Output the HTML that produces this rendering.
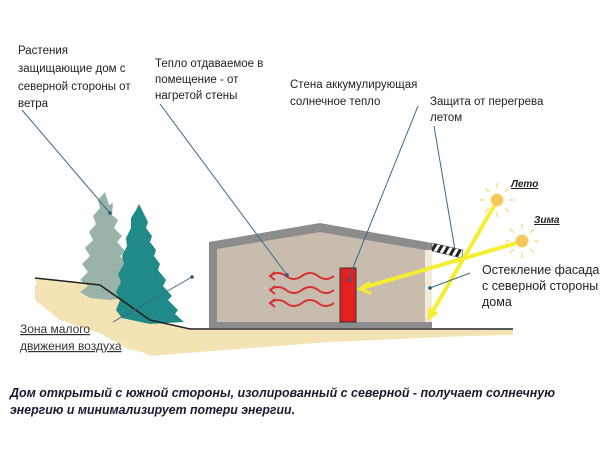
<!DOCTYPE html>
<html><head><meta charset="utf-8"><style>
html,body{margin:0;padding:0;background:#fff;}
svg{display:block;}
text{font-family:"Liberation Sans","DejaVu Sans",sans-serif;}
</style></head><body>
<svg width="604" height="453" viewBox="0 0 604 453" xmlns="http://www.w3.org/2000/svg">
<defs>
<pattern id="hatch" width="6" height="6" patternUnits="userSpaceOnUse" patternTransform="rotate(30)">
<rect width="6" height="6" fill="#fff"/><rect width="3" height="6" fill="#222"/></pattern>
</defs>
<!-- ground -->
<path d="M35,278 L100,285 L150,320 L190,330 L513,330 L513,335 L300,340 L160,355 L130,350 L40,300 Z" fill="#f5e6b8"/>
<path d="M35,285 L35,300 L60,320 L120,340 L150,356 L200,352 L330,342 L510,334 L510,330 L190,330 L150,320 L100,285 Z" fill="#f3e3b4"/>
<!-- gray tree -->
<path d="M105,192 L109,205 L113,203 L112,215 L118,220 L114,228 L122,236 L117,242 L126,252 L120,256 L130,266 L124,270 L135,282 L128,286 L138,296 L110,300 L90,298 L80,292 L88,286 L80,280 L88,272 L82,264 L90,256 L85,248 L93,240 L89,232 L96,224 L93,216 L100,208 L98,200 Z" fill="#9ab3a8"/>
<!-- teal tree -->
<path d="M139,204 L144,214 L148,222 L146,228 L152,236 L150,242 L156,250 L154,256 L160,264 L158,270 L166,280 L163,286 L172,296 L168,300 L178,310 L175,314 L184,322 L150,324 L122,318 L116,310 L120,300 L116,292 L121,282 L118,274 L124,264 L122,256 L127,246 L126,238 L131,228 L131,218 L136,210 Z" fill="#1f8a88"/>
<polyline points="35,278 100,285 150,320 190,329 513,329" fill="none" stroke="#222" stroke-width="1.6"/>
<!-- house -->
<path d="M209,242 L320,223 L432,243 L432,328 L209,328 Z" fill="#8c8c8c"/>
<path d="M217,249 L320,232 L425,250 L425,322 L217,322 Z" fill="#c8bcae"/>
<rect x="425" y="250" width="7" height="72" fill="#f2eadb"/>
<path d="M432,243 L463,250 L462,258 L432,251 Z" fill="url(#hatch)" stroke="#333" stroke-width="0.5"/>
<!-- waves -->
<g fill="none" stroke="#d83030" stroke-width="2">
<path d="M270,276 q8,-6 16,0 t16,0 t16,0 t16,0"/>
<path d="M270,290 q8,-6 16,0 t16,0 t16,0 t16,0"/>
<path d="M270,303 q8,-6 16,0 t16,0 t16,0 t16,0"/>
<path d="M275,272 l-5,4 l5,4 M275,286 l-5,4 l5,4 M275,299 l-5,4 l5,4"/>
</g>
<rect x="340" y="268" width="16" height="54" fill="#e42020" stroke="#333" stroke-width="1"/>
<!-- rays -->
<g stroke="#f5ee30" stroke-width="4" fill="none" stroke-linecap="round">
<line x1="497" y1="201" x2="430" y2="316"/>
<line x1="520" y1="242" x2="362" y2="288"/>
<path d="M436,313 L429,318 L430,309" stroke-width="3"/>
<path d="M369,283 L360,289 L370,293" stroke-width="3"/>
</g>
<!-- suns -->
<g stroke="#f6d67a" stroke-width="1.2">
<circle cx="497" cy="200" r="6" fill="#f6c85a"/>
<circle cx="522" cy="241" r="6" fill="#f6c85a"/>
<path d="M497,188v-5M497,212v5M485,200h-5M509,200h5M489,192l-4,-4M505,208l4,4M505,192l4,-4M489,208l-4,4"/>
<path d="M522,229v-5M522,253v5M510,241h-5M534,241h5M514,233l-4,-4M530,249l4,4M530,233l4,-4M514,249l-4,4"/>
</g>
<!-- leader lines -->
<g stroke="#3a6a8a" stroke-width="1" fill="none">
<line x1="22" y1="110" x2="110" y2="213"/>
<line x1="160" y1="104" x2="287" y2="275"/>
<line x1="418" y1="106" x2="348" y2="280"/>
<line x1="434" y1="126" x2="455" y2="250"/>
<line x1="113" y1="322" x2="192" y2="277"/>
<line x1="470" y1="273" x2="430" y2="288"/>
</g>
<g fill="#2a5a7a"><circle cx="110" cy="213" r="1.8"/><circle cx="287" cy="275" r="1.8"/><circle cx="349" cy="280" r="1.8"/><circle cx="192" cy="277" r="1.8"/><circle cx="430" cy="288" r="1.8"/></g>
<!-- labels -->
<g font-size="11.5" fill="#222">
<text x="18" y="54">Растения</text>
<text x="18" y="72">защищающие дом с</text>
<text x="18" y="90">северной стороны от</text>
<text x="18" y="107">ветра</text>
<text x="155" y="67">Тепло отдаваемое в</text>
<text x="155" y="83">помещение - от</text>
<text x="155" y="99">нагретой стены</text>
<text x="290" y="88">Стена аккумулирующая</text>
<text x="290" y="105">солнечное тепло</text>
<text x="430" y="105">Защита от перегрева</text>
<text x="430" y="121">летом</text>
</g>
<g font-size="12.5" fill="#222">
<text x="482" y="274">Остекление фасада</text>
<text x="482" y="290">с северной стороны</text>
<text x="482" y="306">дома</text>
</g>
<g font-size="12" fill="#333" text-decoration="underline">
<text x="20" y="333">Зона малого</text>
<text x="20" y="350">движения воздуха</text>
</g>
<g font-size="10" font-weight="bold" font-style="italic" fill="#222" text-decoration="underline">
<text x="511" y="187">Лето</text>
<text x="534" y="223">Зима</text>
</g>
<g font-size="12.5" font-weight="bold" font-style="italic" fill="#1a1a2e">
<text x="10" y="397" textLength="545" lengthAdjust="spacingAndGlyphs">Дом открытый с южной стороны, изолированный с северной - получает солнечную</text>
<text x="10" y="414" textLength="285" lengthAdjust="spacingAndGlyphs">энергию и минимализирует потери энергии.</text>
</g>
</svg>
</body></html>
